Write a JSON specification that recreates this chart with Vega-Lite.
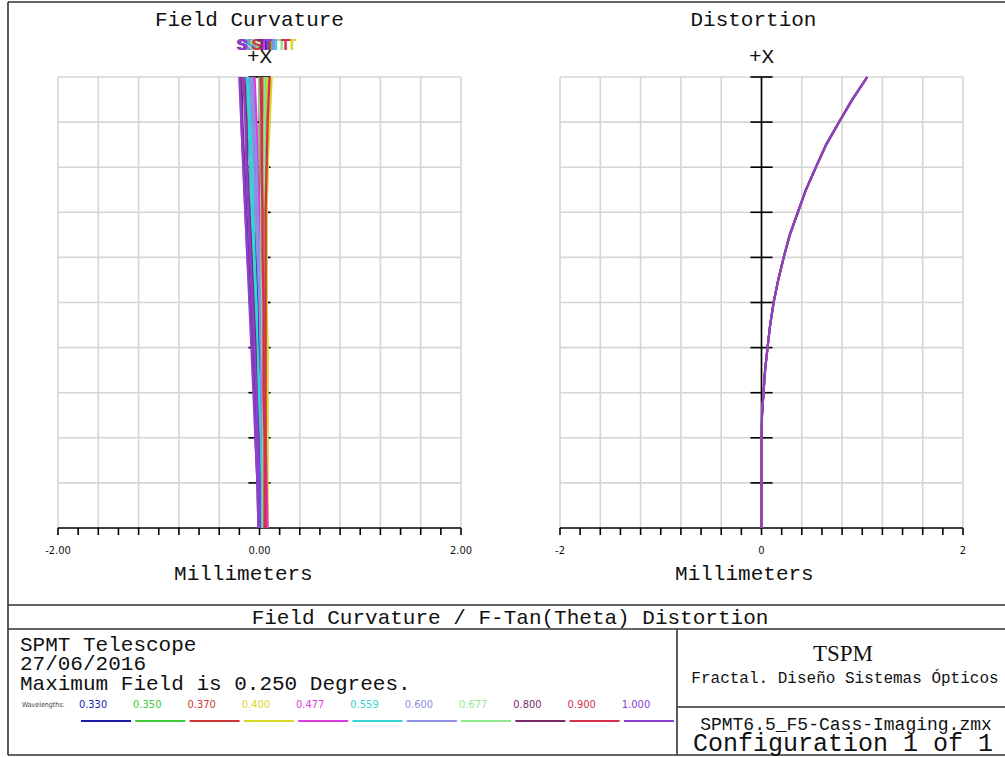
{
  "$schema": "https://vega.github.io/schema/vega-lite/v6.json",
  "width": 1005,
  "height": 758,
  "autosize": {"type": "none"},
  "padding": 0,
  "background": "white",
  "config": {"view": {"stroke": null}},
  "datasets": {
    "grid": [
      {"x": -2, "x2": -2, "y": 0, "y2": 1}, {"x": -1.6, "x2": -1.6, "y": 0, "y2": 1},
      {"x": -1.2, "x2": -1.2, "y": 0, "y2": 1}, {"x": -0.8, "x2": -0.8, "y": 0, "y2": 1},
      {"x": -0.4, "x2": -0.4, "y": 0, "y2": 1}, {"x": 0, "x2": 0, "y": 0, "y2": 1},
      {"x": 0.4, "x2": 0.4, "y": 0, "y2": 1}, {"x": 0.8, "x2": 0.8, "y": 0, "y2": 1},
      {"x": 1.2, "x2": 1.2, "y": 0, "y2": 1}, {"x": 1.6, "x2": 1.6, "y": 0, "y2": 1},
      {"x": 2, "x2": 2, "y": 0, "y2": 1},
      {"x": -2, "x2": 2, "y": 0.1, "y2": 0.1}, {"x": -2, "x2": 2, "y": 0.2, "y2": 0.2},
      {"x": -2, "x2": 2, "y": 0.3, "y2": 0.3}, {"x": -2, "x2": 2, "y": 0.4, "y2": 0.4},
      {"x": -2, "x2": 2, "y": 0.5, "y2": 0.5}, {"x": -2, "x2": 2, "y": 0.6, "y2": 0.6},
      {"x": -2, "x2": 2, "y": 0.7, "y2": 0.7}, {"x": -2, "x2": 2, "y": 0.8, "y2": 0.8},
      {"x": -2, "x2": 2, "y": 0.9, "y2": 0.9}, {"x": -2, "x2": 2, "y": 1, "y2": 1}
    ],
    "caxis": [
      {"x": 0, "x2": 0, "y": 0, "y2": 1},
      {"x": -0.11, "x2": 0.11, "y": 0.1, "y2": 0.1}, {"x": -0.11, "x2": 0.11, "y": 0.2, "y2": 0.2},
      {"x": -0.11, "x2": 0.11, "y": 0.3, "y2": 0.3}, {"x": -0.11, "x2": 0.11, "y": 0.4, "y2": 0.4},
      {"x": -0.11, "x2": 0.11, "y": 0.5, "y2": 0.5}, {"x": -0.11, "x2": 0.11, "y": 0.6, "y2": 0.6},
      {"x": -0.11, "x2": 0.11, "y": 0.7, "y2": 0.7}, {"x": -0.11, "x2": 0.11, "y": 0.8, "y2": 0.8},
      {"x": -0.11, "x2": 0.11, "y": 0.9, "y2": 0.9}, {"x": -0.11, "x2": 0.11, "y": 1, "y2": 1}
    ],
    "xaxis": [
      {"x": -2, "x2": 2, "y": 0, "y2": 0},
      {"x": -2, "x2": -2, "y": 0, "y2": -0.0155}, {"x": -1.8, "x2": -1.8, "y": 0, "y2": -0.0155},
      {"x": -1.6, "x2": -1.6, "y": 0, "y2": -0.0155}, {"x": -1.4, "x2": -1.4, "y": 0, "y2": -0.0155},
      {"x": -1.2, "x2": -1.2, "y": 0, "y2": -0.0155}, {"x": -1, "x2": -1, "y": 0, "y2": -0.0155},
      {"x": -0.8, "x2": -0.8, "y": 0, "y2": -0.0155}, {"x": -0.6, "x2": -0.6, "y": 0, "y2": -0.0155},
      {"x": -0.4, "x2": -0.4, "y": 0, "y2": -0.0155}, {"x": -0.2, "x2": -0.2, "y": 0, "y2": -0.0155},
      {"x": 0, "x2": 0, "y": 0, "y2": -0.0155}, {"x": 0.2, "x2": 0.2, "y": 0, "y2": -0.0155},
      {"x": 0.4, "x2": 0.4, "y": 0, "y2": -0.0155}, {"x": 0.6, "x2": 0.6, "y": 0, "y2": -0.0155},
      {"x": 0.8, "x2": 0.8, "y": 0, "y2": -0.0155}, {"x": 1, "x2": 1, "y": 0, "y2": -0.0155},
      {"x": 1.2, "x2": 1.2, "y": 0, "y2": -0.0155}, {"x": 1.4, "x2": 1.4, "y": 0, "y2": -0.0155},
      {"x": 1.6, "x2": 1.6, "y": 0, "y2": -0.0155}, {"x": 1.8, "x2": 1.8, "y": 0, "y2": -0.0155},
      {"x": 2, "x2": 2, "y": 0, "y2": -0.0155}
    ],
    "fc": [
      {"w": "0.330", "t": "S", "f": [0,0.1,0.2,0.3,0.4,0.5,0.6,0.7,0.8,0.9,1], "x": [0.02,0.02,0.01,0.00,-0.01,-0.02,-0.03,-0.04,-0.04,-0.05,-0.06]},
      {"w": "0.330", "t": "T", "f": [0,0.1,0.2,0.3,0.4,0.5,0.6,0.7,0.8,0.9,1], "x": [0.01,0.01,0.00,-0.02,-0.03,-0.05,-0.07,-0.08,-0.09,-0.11,-0.12]},
      {"w": "0.350", "t": "S", "f": [0,0.1,0.2,0.3,0.4,0.5,0.6,0.7,0.8,0.9,1], "x": [0.04,0.04,0.04,0.03,0.03,0.03,0.02,0.02,0.02,0.02,0.02]},
      {"w": "0.350", "t": "T", "f": [0,0.1,0.2,0.3,0.4,0.5,0.6,0.7,0.8,0.9,1], "x": [0.03,0.03,0.04,0.04,0.04,0.05,0.05,0.05,0.05,0.06,0.06]},
      {"w": "0.370", "t": "S", "f": [0,0.1,0.2,0.3,0.4,0.5,0.6,0.7,0.8,0.9,1], "x": [0.03,0.03,0.03,0.02,0.02,0.02,0.02,0.01,0.01,0.01,0.01]},
      {"w": "0.370", "t": "T", "f": [0,0.1,0.2,0.3,0.4,0.5,0.6,0.7,0.8,0.9,1], "x": [0.03,0.03,0.03,0.03,0.03,0.03,0.03,0.03,0.03,0.03,0.04]},
      {"w": "0.400", "t": "S", "f": [0,0.1,0.2,0.3,0.4,0.5,0.6,0.7,0.8,0.9,1], "x": [0.07,0.07,0.07,0.07,0.07,0.07,0.07,0.07,0.08,0.08,0.08]},
      {"w": "0.400", "t": "T", "f": [0,0.1,0.2,0.3,0.4,0.5,0.6,0.7,0.8,0.9,1], "x": [0.08,0.08,0.08,0.08,0.08,0.07,0.07,0.07,0.08,0.10,0.12]},
      {"w": "0.477", "t": "S", "f": [0,0.1,0.2,0.3,0.4,0.5,0.6,0.7,0.8,0.9,1], "x": [0.08,0.07,0.06,0.05,0.04,0.02,0.01,0.00,-0.02,-0.03,-0.05]},
      {"w": "0.477", "t": "T", "f": [0,0.1,0.2,0.3,0.4,0.5,0.6,0.7,0.8,0.9,1], "x": [0.00,-0.01,-0.03,-0.05,-0.07,-0.09,-0.12,-0.14,-0.16,-0.18,-0.19]},
      {"w": "0.559", "t": "S", "f": [0,0.1,0.2,0.3,0.4,0.5,0.6,0.7,0.8,0.9,1], "x": [0.03,0.02,0.01,0.00,-0.02,-0.03,-0.05,-0.06,-0.07,-0.09,-0.10]},
      {"w": "0.559", "t": "T", "f": [0,0.1,0.2,0.3,0.4,0.5,0.6,0.7,0.8,0.9,1], "x": [0.02,0.01,0.00,-0.01,-0.03,-0.05,-0.06,-0.08,-0.09,-0.11,-0.12]},
      {"w": "0.600", "t": "S", "f": [0,0.1,0.2,0.3,0.4,0.5,0.6,0.7,0.8,0.9,1], "x": [0.05,0.05,0.04,0.03,0.02,0.01,0.00,-0.02,-0.03,-0.05,-0.07]},
      {"w": "0.600", "t": "T", "f": [0,0.1,0.2,0.3,0.4,0.5,0.6,0.7,0.8,0.9,1], "x": [0.04,0.04,0.03,0.02,0.01,0.00,-0.02,-0.04,-0.05,-0.07,-0.09]},
      {"w": "0.677", "t": "S", "f": [0,0.1,0.2,0.3,0.4,0.5,0.6,0.7,0.8,0.9,1], "x": [0.04,0.04,0.04,0.04,0.03,0.03,0.02,0.02,0.01,0.01,0.00]},
      {"w": "0.677", "t": "T", "f": [0,0.1,0.2,0.3,0.4,0.5,0.6,0.7,0.8,0.9,1], "x": [0.05,0.05,0.05,0.05,0.05,0.05,0.05,0.05,0.05,0.05,0.05]},
      {"w": "0.800", "t": "S", "f": [0,0.1,0.2,0.3,0.4,0.5,0.6,0.7,0.8,0.9,1], "x": [0.00,0.00,-0.01,-0.03,-0.04,-0.06,-0.08,-0.10,-0.12,-0.13,-0.15]},
      {"w": "0.800", "t": "T", "f": [0,0.1,0.2,0.3,0.4,0.5,0.6,0.7,0.8,0.9,1], "x": [-0.01,-0.02,-0.04,-0.05,-0.07,-0.09,-0.11,-0.13,-0.15,-0.17,-0.18]},
      {"w": "0.900", "t": "S", "f": [0,0.1,0.2,0.3,0.4,0.5,0.6,0.7,0.8,0.9,1], "x": [0.05,0.05,0.05,0.04,0.04,0.04,0.03,0.03,0.02,0.02,0.01]},
      {"w": "0.900", "t": "T", "f": [0,0.1,0.2,0.3,0.4,0.5,0.6,0.7,0.8,0.9,1], "x": [0.06,0.06,0.06,0.06,0.06,0.06,0.06,0.06,0.07,0.08,0.10]},
      {"w": "1.000", "t": "S", "f": [0,0.1,0.2,0.3,0.4,0.5,0.6,0.7,0.8,0.9,1], "x": [0.00,0.00,-0.02,-0.03,-0.05,-0.07,-0.09,-0.11,-0.13,-0.14,-0.16]},
      {"w": "1.000", "t": "T", "f": [0,0.1,0.2,0.3,0.4,0.5,0.6,0.7,0.8,0.9,1], "x": [-0.01,-0.02,-0.04,-0.06,-0.08,-0.10,-0.12,-0.14,-0.16,-0.18,-0.20]}
    ],
    "st": [
      {"w": "0.330", "t": "S", "x": -0.10}, {"w": "0.350", "t": "S", "x": -0.06},
      {"w": "0.370", "t": "S", "x": -0.04}, {"w": "0.400", "t": "S", "x": -0.02},
      {"w": "0.559", "t": "S", "x": -0.12}, {"w": "0.600", "t": "S", "x": -0.08},
      {"w": "0.677", "t": "S", "x": -0.05}, {"w": "0.900", "t": "S", "x": -0.03},
      {"w": "0.477", "t": "S", "x": -0.16}, {"w": "0.800", "t": "S", "x": -0.18},
      {"w": "1.000", "t": "S", "x": -0.17},
      {"w": "0.330", "t": "T", "x": 0.06}, {"w": "0.350", "t": "T", "x": 0.12},
      {"w": "0.370", "t": "T", "x": 0.10}, {"w": "0.400", "t": "T", "x": 0.32},
      {"w": "0.559", "t": "T", "x": 0.16}, {"w": "0.600", "t": "T", "x": 0.14},
      {"w": "0.677", "t": "T", "x": 0.22}, {"w": "0.900", "t": "T", "x": 0.26},
      {"w": "0.477", "t": "T", "x": 0.04}, {"w": "0.800", "t": "T", "x": 0.02},
      {"w": "1.000", "t": "T", "x": 0.08}
    ],
    "dist": [
      {"w": "0.330", "f": [0,0.05,0.1,0.15,0.2,0.25,0.3,0.35,0.4,0.45,0.5,0.55,0.6,0.65,0.7,0.75,0.8,0.85,0.9,0.95,1], "x": [0,0,0,0,0,0.006,0.02,0.037,0.06,0.087,0.12,0.167,0.22,0.283,0.36,0.443,0.54,0.645,0.77,0.905,1.05]},
      {"w": "0.350", "f": [0,0.05,0.1,0.15,0.2,0.25,0.3,0.35,0.4,0.45,0.5,0.55,0.6,0.65,0.7,0.75,0.8,0.85,0.9,0.95,1], "x": [0,0,0,0,0,0.004,0.021,0.035,0.062,0.085,0.123,0.165,0.223,0.28,0.363,0.44,0.543,0.64,0.773,0.9,1.052]},
      {"w": "0.370", "f": [0,0.05,0.1,0.15,0.2,0.25,0.3,0.35,0.4,0.45,0.5,0.55,0.6,0.65,0.7,0.75,0.8,0.85,0.9,0.95,1], "x": [0,0,0,0,0,0.005,0.019,0.036,0.059,0.086,0.119,0.166,0.219,0.281,0.359,0.441,0.539,0.642,0.769,0.902,1.048]},
      {"w": "0.400", "f": [0,0.05,0.1,0.15,0.2,0.25,0.3,0.35,0.4,0.45,0.5,0.55,0.6,0.65,0.7,0.75,0.8,0.85,0.9,0.95,1], "x": [0,0,0,0,0,0.005,0.02,0.034,0.061,0.084,0.121,0.164,0.221,0.279,0.361,0.439,0.541,0.639,0.771,0.899,1.051]},
      {"w": "0.477", "f": [0,0.05,0.1,0.15,0.2,0.25,0.3,0.35,0.4,0.45,0.5,0.55,0.6,0.65,0.7,0.75,0.8,0.85,0.9,0.95,1], "x": [0,0,0,0,0,0.006,0.021,0.036,0.061,0.086,0.121,0.166,0.222,0.282,0.362,0.442,0.542,0.643,0.772,0.903,1.05]},
      {"w": "0.559", "f": [0,0.05,0.1,0.15,0.2,0.25,0.3,0.35,0.4,0.45,0.5,0.55,0.6,0.65,0.7,0.75,0.8,0.85,0.9,0.95,1], "x": [0,0,0,0,0,0.005,0.02,0.035,0.06,0.086,0.12,0.166,0.221,0.28,0.361,0.44,0.541,0.641,0.771,0.901,1.049]},
      {"w": "0.600", "f": [0,0.05,0.1,0.15,0.2,0.25,0.3,0.35,0.4,0.45,0.5,0.55,0.6,0.65,0.7,0.75,0.8,0.85,0.9,0.95,1], "x": [0,0,0,0,0,0.004,0.019,0.035,0.059,0.085,0.119,0.165,0.219,0.279,0.359,0.439,0.539,0.639,0.769,0.899,1.048]},
      {"w": "0.677", "f": [0,0.05,0.1,0.15,0.2,0.25,0.3,0.35,0.4,0.45,0.5,0.55,0.6,0.65,0.7,0.75,0.8,0.85,0.9,0.95,1], "x": [0,0,0,0,0,0.005,0.021,0.036,0.061,0.085,0.121,0.165,0.221,0.281,0.361,0.441,0.541,0.641,0.771,0.901,1.051]},
      {"w": "0.800", "f": [0,0.05,0.1,0.15,0.2,0.25,0.3,0.35,0.4,0.45,0.5,0.55,0.6,0.65,0.7,0.75,0.8,0.85,0.9,0.95,1], "x": [0,0,0,0,0,0.005,0.02,0.035,0.06,0.085,0.12,0.165,0.22,0.28,0.36,0.44,0.54,0.64,0.77,0.9,1.05]},
      {"w": "0.900", "f": [0,0.05,0.1,0.15,0.2,0.25,0.3,0.35,0.4,0.45,0.5,0.55,0.6,0.65,0.7,0.75,0.8,0.85,0.9,0.95,1], "x": [0,0,0,0,0,0.006,0.02,0.036,0.06,0.086,0.12,0.166,0.22,0.281,0.36,0.441,0.54,0.641,0.77,0.901,1.05]},
      {"w": "1.000", "f": [0,0.05,0.1,0.15,0.2,0.25,0.3,0.35,0.4,0.45,0.5,0.55,0.6,0.65,0.7,0.75,0.8,0.85,0.9,0.95,1], "x": [0,0,0,0,0,0.005,0.02,0.035,0.06,0.085,0.12,0.165,0.22,0.28,0.36,0.44,0.54,0.64,0.77,0.9,1.05]}
    ],
    "legend": [
      {"w": "0.330", "c": 0.0853, "x1": 0.0732, "x2": 0.1234},
      {"w": "0.350", "c": 0.1397, "x1": 0.1277, "x2": 0.1779},
      {"w": "0.370", "c": 0.1942, "x1": 0.1821, "x2": 0.2323},
      {"w": "0.400", "c": 0.2487, "x1": 0.2366, "x2": 0.2868},
      {"w": "0.477", "c": 0.3031, "x1": 0.2910, "x2": 0.3412},
      {"w": "0.559", "c": 0.3576, "x1": 0.3455, "x2": 0.3957},
      {"w": "0.600", "c": 0.4121, "x1": 0.4000, "x2": 0.4502},
      {"w": "0.677", "c": 0.4665, "x1": 0.4544, "x2": 0.5046},
      {"w": "0.800", "c": 0.5210, "x1": 0.5089, "x2": 0.5591},
      {"w": "0.900", "c": 0.5754, "x1": 0.5633, "x2": 0.6135},
      {"w": "1.000", "c": 0.6299, "x1": 0.6178, "x2": 0.6680}
    ]
  },
  "resolve": {"scale": {"x": "independent", "y": "independent"}, "axis": {"x": "independent", "y": "independent"}},
  "layer": [
    {
      "layer": [
        {
          "data": {"name": "grid"},
          "mark": {"type": "rule", "color": "#d6d6d6", "strokeWidth": 1.6},
          "encoding": {
            "x": {"field": "x", "type": "quantitative", "scale": {"domain": [-2, 2], "range": [58, 461], "nice": false, "zero": false}, "axis": null},
            "x2": {"field": "x2"},
            "y": {"field": "y", "type": "quantitative", "scale": {"domain": [0, 1], "range": [528, 77], "nice": false, "zero": false}, "axis": null},
            "y2": {"field": "y2"}
          }
        },
        {
          "data": {"name": "caxis"},
          "mark": {"type": "rule", "color": "#000", "strokeWidth": 1.6},
          "encoding": {
            "x": {"field": "x", "type": "quantitative", "axis": null},
            "x2": {"field": "x2"},
            "y": {"field": "y", "type": "quantitative", "axis": null},
            "y2": {"field": "y2"}
          }
        },
        {
          "data": {"name": "xaxis"},
          "mark": {"type": "rule", "color": "#000", "strokeWidth": 1.6},
          "encoding": {
            "x": {"field": "x", "type": "quantitative", "axis": null},
            "x2": {"field": "x2"},
            "y": {"field": "y", "type": "quantitative", "axis": null},
            "y2": {"field": "y2"}
          }
        },
        {
          "data": {"name": "fc"},
          "transform": [{"flatten": ["f", "x"]}],
          "mark": {"type": "line", "strokeWidth": 2.4},
          "encoding": {
            "x": {"field": "x", "type": "quantitative", "axis": null},
            "y": {"field": "f", "type": "quantitative", "axis": null},
            "color": {"field": "w", "type": "nominal", "legend": null,
              "scale": {"domain": ["0.330","0.350","0.370","0.400","0.477","0.559","0.600","0.677","0.800","0.900","1.000"],
                "range": ["#1c1ca8","#3ccc3c","#cc3636","#d8d82a","#dc3cdc","#36d4d4","#8e8ee4","#90e890","#7a2a6a","#d4304e","#8a40d0"]}},
            "detail": {"field": "t"},
            "order": {"field": "f", "type": "quantitative"}
          }
        },
        {
          "data": {"name": "st"},
          "mark": {"type": "text", "font": "Liberation Mono", "fontSize": 17, "fontWeight": "bold", "baseline": "middle", "align": "center"},
          "encoding": {
            "x": {"field": "x", "type": "quantitative", "axis": null},
            "y": {"datum": 1.071, "type": "quantitative", "axis": null},
            "text": {"field": "t"},
            "color": {"field": "w", "type": "nominal", "legend": null}
          }
        },
        {
          "data": {"values": [{"label": "Field Curvature", "x": -0.1, "y": 1.1264}, {"label": "+X", "x": 0, "y": 1.044}, {"label": "Millimeters", "x": -0.16, "y": -0.102}]},
          "mark": {"type": "text", "font": "Liberation Mono", "fontSize": 21, "baseline": "middle", "align": "center", "color": "#111"},
          "encoding": {
            "x": {"field": "x", "type": "quantitative", "axis": null},
            "y": {"field": "y", "type": "quantitative", "axis": null},
            "text": {"field": "label"}
          }
        },
        {
          "data": {"values": [{"label": "-2.00", "x": -2}, {"label": "0.00", "x": 0}, {"label": "2.00", "x": 2}]},
          "mark": {"type": "text", "font": "DejaVu Sans Condensed, Roboto Condensed, Liberation Sans Narrow, DejaVu Sans, sans-serif", "fontSize": 11, "baseline": "middle", "align": "center", "color": "#111"},
          "encoding": {
            "x": {"field": "x", "type": "quantitative", "axis": null},
            "y": {"datum": -0.051, "type": "quantitative", "axis": null},
            "text": {"field": "label"}
          }
        }
      ]
    },
    {
      "layer": [
        {
          "data": {"name": "grid"},
          "mark": {"type": "rule", "color": "#d6d6d6", "strokeWidth": 1.6},
          "encoding": {
            "x": {"field": "x", "type": "quantitative", "scale": {"domain": [-2, 2], "range": [560, 963], "nice": false, "zero": false}, "axis": null},
            "x2": {"field": "x2"},
            "y": {"field": "y", "type": "quantitative", "scale": {"domain": [0, 1], "range": [528, 77], "nice": false, "zero": false}, "axis": null},
            "y2": {"field": "y2"}
          }
        },
        {
          "data": {"name": "caxis"},
          "mark": {"type": "rule", "color": "#000", "strokeWidth": 1.6},
          "encoding": {
            "x": {"field": "x", "type": "quantitative", "axis": null},
            "x2": {"field": "x2"},
            "y": {"field": "y", "type": "quantitative", "axis": null},
            "y2": {"field": "y2"}
          }
        },
        {
          "data": {"name": "xaxis"},
          "mark": {"type": "rule", "color": "#000", "strokeWidth": 1.6},
          "encoding": {
            "x": {"field": "x", "type": "quantitative", "axis": null},
            "x2": {"field": "x2"},
            "y": {"field": "y", "type": "quantitative", "axis": null},
            "y2": {"field": "y2"}
          }
        },
        {
          "data": {"name": "dist"},
          "transform": [{"flatten": ["f", "x"]}],
          "mark": {"type": "line", "strokeWidth": 2},
          "encoding": {
            "x": {"field": "x", "type": "quantitative", "axis": null},
            "y": {"field": "f", "type": "quantitative", "axis": null},
            "color": {"field": "w", "type": "nominal", "legend": null},
            "order": {"field": "f", "type": "quantitative"}
          }
        },
        {
          "data": {"values": [{"label": "Distortion", "x": -0.08, "y": 1.1264}, {"label": "+X", "x": 0, "y": 1.044}, {"label": "Millimeters", "x": -0.17, "y": -0.102}]},
          "mark": {"type": "text", "font": "Liberation Mono", "fontSize": 21, "baseline": "middle", "align": "center", "color": "#111"},
          "encoding": {
            "x": {"field": "x", "type": "quantitative", "axis": null},
            "y": {"field": "y", "type": "quantitative", "axis": null},
            "text": {"field": "label"}
          }
        },
        {
          "data": {"values": [{"label": "-2", "x": -2}, {"label": "0", "x": 0}, {"label": "2", "x": 2}]},
          "mark": {"type": "text", "font": "DejaVu Sans Condensed, Roboto Condensed, Liberation Sans Narrow, DejaVu Sans, sans-serif", "fontSize": 11, "baseline": "middle", "align": "center", "color": "#111"},
          "encoding": {
            "x": {"field": "x", "type": "quantitative", "axis": null},
            "y": {"datum": -0.051, "type": "quantitative", "axis": null},
            "text": {"field": "label"}
          }
        }
      ]
    },
    {
      "layer": [
        {
          "data": {"values": [
            {"x1": 0, "x2": 1, "y1": 0, "y2": 0},
            {"x1": 0, "x2": 1, "y1": 1, "y2": 1},
            {"x1": 0, "x2": 0, "y1": 0, "y2": 1},
            {"x1": 0, "x2": 1, "y1": 0.8008, "y2": 0.8008},
            {"x1": 0, "x2": 1, "y1": 0.8327, "y2": 0.8327},
            {"x1": 0.6710, "x2": 0.6710, "y1": 0.8327, "y2": 1},
            {"x1": 0.6710, "x2": 1, "y1": 0.9363, "y2": 0.9363}
          ]},
          "mark": {"type": "rule", "color": "#333", "strokeWidth": 1.6},
          "encoding": {
            "x": {"field": "x1", "type": "quantitative", "scale": {"domain": [0, 1], "range": [8, 1005], "nice": false, "zero": false}, "axis": null},
            "x2": {"field": "x2"},
            "y": {"field": "y1", "type": "quantitative", "scale": {"domain": [0, 1], "range": [2, 755], "nice": false, "zero": false}, "axis": null},
            "y2": {"field": "y2"}
          }
        },
        {
          "data": {"values": [{"label": "Field Curvature / F-Tan(Theta) Distortion", "x": 0.5035, "y": 0.8181}]},
          "mark": {"type": "text", "font": "Liberation Mono", "fontSize": 21, "align": "center", "baseline": "middle", "color": "#111"},
          "encoding": {
            "x": {"field": "x", "type": "quantitative", "axis": null},
            "y": {"field": "y", "type": "quantitative", "axis": null},
            "text": {"field": "label"}
          }
        },
        {
          "data": {"values": [
            {"label": "SPMT Telescope", "x": 0.012, "y": 0.8539},
            {"label": "27/06/2016", "x": 0.012, "y": 0.8792},
            {"label": "Maximum Field is 0.250 Degrees.", "x": 0.012, "y": 0.9057}
          ]},
          "mark": {"type": "text", "font": "Liberation Mono", "fontSize": 21, "align": "left", "baseline": "middle", "color": "#111"},
          "encoding": {
            "x": {"field": "x", "type": "quantitative", "axis": null},
            "y": {"field": "y", "type": "quantitative", "axis": null},
            "text": {"field": "label"}
          }
        },
        {
          "data": {"values": [{"label": "Wavelengths:", "x": 0.014, "y": 0.9336}]},
          "mark": {"type": "text", "font": "DejaVu Sans Condensed, Roboto Condensed, Liberation Sans Narrow, DejaVu Sans, sans-serif", "fontSize": 7, "align": "left", "baseline": "middle", "color": "#444"},
          "encoding": {
            "x": {"field": "x", "type": "quantitative", "axis": null},
            "y": {"field": "y", "type": "quantitative", "axis": null},
            "text": {"field": "label"}
          }
        },
        {
          "data": {"name": "legend"},
          "mark": {"type": "text", "font": "DejaVu Sans Condensed, Roboto Condensed, Liberation Sans Narrow, DejaVu Sans, sans-serif", "fontSize": 11, "align": "center", "baseline": "middle"},
          "encoding": {
            "x": {"field": "c", "type": "quantitative", "axis": null},
            "y": {"datum": 0.9336, "type": "quantitative", "axis": null},
            "text": {"field": "w"},
            "color": {"field": "w", "type": "nominal", "legend": null}
          }
        },
        {
          "data": {"name": "legend"},
          "mark": {"type": "rule", "strokeWidth": 2},
          "encoding": {
            "x": {"field": "x1", "type": "quantitative", "axis": null},
            "x2": {"field": "x2"},
            "y": {"datum": 0.9548, "type": "quantitative", "axis": null},
            "color": {"field": "w", "type": "nominal", "legend": null}
          }
        },
        {
          "data": {"values": [{"label": "TSPM", "x": 0.8375, "y": 0.8659}]},
          "mark": {"type": "text", "font": "Liberation Serif", "fontSize": 23, "align": "center", "baseline": "middle", "color": "#111"},
          "encoding": {
            "x": {"field": "x", "type": "quantitative", "axis": null},
            "y": {"field": "y", "type": "quantitative", "axis": null},
            "text": {"field": "label"}
          }
        },
        {
          "data": {"values": [{"label": "Fractal.  Diseño Sistemas Ópticos", "x": 0.8395, "y": 0.8977}]},
          "mark": {"type": "text", "font": "Liberation Mono", "fontSize": 16, "align": "center", "baseline": "middle", "color": "#111"},
          "encoding": {
            "x": {"field": "x", "type": "quantitative", "axis": null},
            "y": {"field": "y", "type": "quantitative", "axis": null},
            "text": {"field": "label"}
          }
        },
        {
          "data": {"values": [{"label": "SPMT6.5_F5-Cass-Imaging.zmx", "x": 0.8405, "y": 0.9602}]},
          "mark": {"type": "text", "font": "Liberation Mono", "fontSize": 18, "align": "center", "baseline": "middle", "color": "#111"},
          "encoding": {
            "x": {"field": "x", "type": "quantitative", "axis": null},
            "y": {"field": "y", "type": "quantitative", "axis": null},
            "text": {"field": "label"}
          }
        },
        {
          "data": {"values": [{"label": "Configuration 1 of 1", "x": 0.8375, "y": 0.9841}]},
          "mark": {"type": "text", "font": "Liberation Mono", "fontSize": 25, "align": "center", "baseline": "middle", "color": "#111"},
          "encoding": {
            "x": {"field": "x", "type": "quantitative", "axis": null},
            "y": {"field": "y", "type": "quantitative", "axis": null},
            "text": {"field": "label"}
          }
        }
      ]
    }
  ]
}
